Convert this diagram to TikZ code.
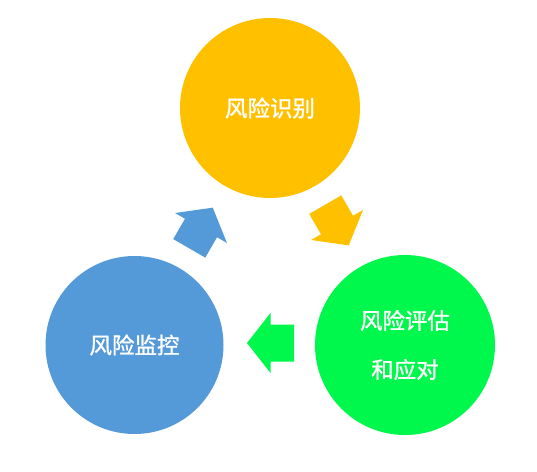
\documentclass[tikz,border=0pt]{standalone}
\usepackage{fontspec}
\setmainfont{Noto Sans CJK SC}[FakeBold=1.2]
\definecolor{cyellow}{HTML}{FFC000}
\definecolor{cblue}{HTML}{5499D8}
\definecolor{cgreen}{HTML}{00F74C}
\begin{document}
\begin{tikzpicture}[x=1pt,y=-1pt,
  bubble/.style={circle, inner sep=0pt, text=white, align=center,
    font=\fontsize{22.5}{49}\selectfont},
  fatarrow/.pic={\fill[pic actions] (-23.5,18.5) -- (0,18.5) -- (0,30) -- (23.5,0) -- (0,-30) -- (0,-18.5) -- (-23.5,-18.5) -- cycle;}]
\useasboundingbox (0,0) rectangle (537,471);
\node[bubble, fill=cyellow, minimum size=180pt] (ident) at (270,108) {风险识别};
\node[bubble, fill=cblue, minimum size=178pt] (monitor) at (134.5,345) {风险监控};
\node[bubble, fill=cgreen, minimum size=180pt] (assess) at (405,345) {风险评估\\和应对};
\pic[fill=cyellow, rotate=-60] (a1) at (337,225) {fatarrow};
\pic[fill=cgreen, rotate=180] (a2) at (270.5,343) {fatarrow};
\pic[fill=cblue, rotate=60] (a3) at (201,228) {fatarrow};
\end{tikzpicture}
\end{document}
